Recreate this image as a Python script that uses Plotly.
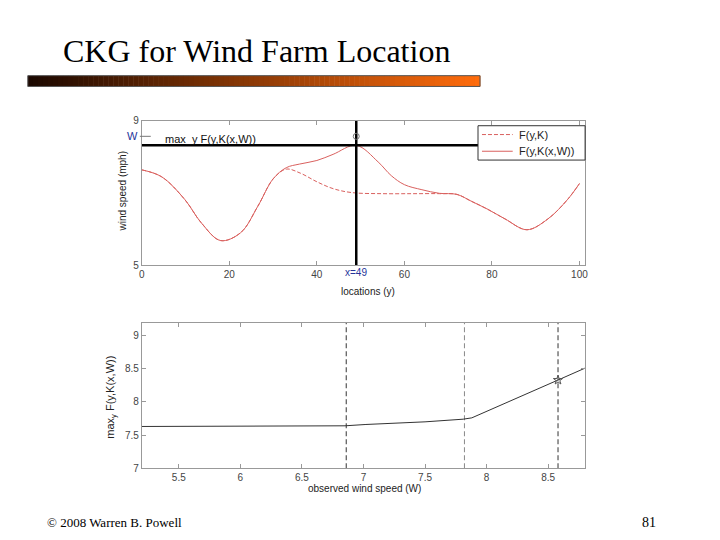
import plotly.graph_objects as go

# ---- data: top panel (locations y vs wind speed) ----
loc_fyk = [0, 4.5, 9.8, 13.6, 18, 22.6, 26.5, 30, 33, 36.2, 40, 43.7, 48, 55, 62, 68, 72, 75.3, 79, 83, 88, 92.8, 97.3, 100]
val_fyk = [7.64, 7.45, 6.82, 6.17, 5.68, 5.9, 6.63, 7.39, 7.66, 7.55, 7.31, 7.12, 7.01, 6.98, 6.98, 6.98, 6.96, 6.77, 6.55, 6.28, 5.98, 6.28, 6.82, 7.26]

loc_fykw = [0, 4.5, 9.8, 13.6, 18, 22.6, 26.5, 30, 33, 36, 40, 43.7, 49, 54, 57, 60, 64, 68, 72, 75.3, 79, 83, 88, 92.8, 97.3, 100]
val_fykw = [7.64, 7.45, 6.82, 6.17, 5.68, 5.9, 6.63, 7.39, 7.7, 7.8, 7.9, 8.07, 8.32, 7.86, 7.48, 7.23, 7.09, 6.99, 6.96, 6.77, 6.55, 6.28, 5.98, 6.28, 6.82, 7.26]

x_best = 49
max_value = 8.32
w_observed = 8.57
top_xticks = [0, 20, 40, 60, 80, 100]
top_yticks = [5, 9]
legend_labels = ["F(y,K)", "F(y,K(x,W))"]

# ---- data: bottom panel (observed wind speed vs max value) ----
w_vals = [5.2, 6.85, 7.02, 7.5, 7.81, 7.88, 8.58, 8.8]
max_vals = [7.63, 7.64, 7.66, 7.7, 7.74, 7.76, 8.33, 8.51]
w_marker = [8.58]
max_marker = [8.33]
vlines_w = [6.86, 7.82, 8.58]
vline_colors = ["#333333", "#888888", "#333333"]
bot_xticks = [5.5, 6, 6.5, 7, 7.5, 8, 8.5]
bot_yticks = [7, 7.5, 8, 8.5, 9]

RED = "#d9605e"
BLUE = "#26349a"
SANS = "Liberation Sans, Arial"
SERIF = "Liberation Serif, Times New Roman"
TICKFONT = dict(family=SANS, size=10, color="#444444")
DASH = "4px,2px"

fig = go.Figure()

fig.add_trace(go.Scatter(x=loc_fyk, y=val_fyk, mode="lines", name=legend_labels[0],
                         line=dict(color=RED, width=1, dash=DASH, shape="spline"),
                         xaxis="x", yaxis="y"))
fig.add_trace(go.Scatter(x=loc_fykw, y=val_fykw, mode="lines", name=legend_labels[1],
                         line=dict(color=RED, width=1, shape="spline"),
                         xaxis="x", yaxis="y"))
# black crosshair
fig.add_trace(go.Scatter(x=[0, 101.3], y=[max_value, max_value], mode="lines",
                         line=dict(color="black", width=2.5), xaxis="x", yaxis="y"))
fig.add_trace(go.Scatter(x=[x_best, x_best], y=[5, 9], mode="lines",
                         line=dict(color="black", width=2.5), xaxis="x", yaxis="y"))
fig.add_trace(go.Scatter(x=[x_best], y=[w_observed], mode="markers",
                         marker=dict(symbol="circle-open", size=6, color="#777777"),
                         xaxis="x", yaxis="y"))

# bottom panel
for wv, c in zip(vlines_w, vline_colors):
    fig.add_trace(go.Scatter(x=[wv, wv], y=[7, 9.19], mode="lines",
                             line=dict(color=c, width=1, dash="5px,3px"),
                             xaxis="x2", yaxis="y2"))
fig.add_trace(go.Scatter(x=w_vals, y=max_vals, mode="lines",
                         line=dict(color="#333333", width=1), xaxis="x2", yaxis="y2"))
fig.add_trace(go.Scatter(x=w_marker, y=max_marker, mode="markers",
                         marker=dict(symbol="star-open", size=7, color="#555555"),
                         xaxis="x2", yaxis="y2"))

W, H = 720, 540
def px_x(p): return p / W
def px_y(p): return (H - p) / H

axis_common = dict(showgrid=False, zeroline=False, showline=True, linecolor="#999999",
                   linewidth=1, mirror="ticks", ticks="inside", ticklen=4,
                   tickcolor="#999999", tickfont=TICKFONT)

fig.update_layout(
    width=W, height=H, autosize=False,
    margin=dict(l=0, r=0, t=0, b=0),
    paper_bgcolor="white", plot_bgcolor="white",
    showlegend=False,
    xaxis=dict(domain=[px_x(140), px_x(587)], range=[0, 101.3], tickvals=top_xticks,
               anchor="y", **axis_common),
    yaxis=dict(domain=[px_y(265), px_y(118)], range=[5, 9], tickvals=top_yticks,
               anchor="x", **axis_common),
    xaxis2=dict(domain=[px_x(140), px_x(587)], range=[5.2, 8.8], tickvals=bot_xticks,
                anchor="y2", **axis_common),
    yaxis2=dict(domain=[px_y(472), px_y(324)], range=[7, 9.19], tickvals=bot_yticks,
                anchor="x2", **axis_common),
)

annotations = [
    dict(text="CKG for Wind Farm Location", x=px_x(58), y=px_y(47), xanchor="left", yanchor="middle",
         font=dict(family=SERIF, size=32, color="black")),
    dict(text="max_y F(y,K(x,W))", x=px_x(161), y=px_y(137), xanchor="left", yanchor="middle",
         font=dict(family=SANS, size=11, color="#111111")),
    dict(text="W", x=px_x(131), y=px_y(133), xanchor="center", yanchor="middle",
         font=dict(family=SANS, size=11, color=BLUE)),
    dict(text="x=49", x=px_x(356), y=px_y(273), xanchor="center", yanchor="middle",
         font=dict(family=SANS, size=10, color=BLUE)),
    dict(text="wind speed (mph)", x=px_x(120), y=px_y(190), xanchor="center", yanchor="middle",
         textangle=-90, font=dict(family=SANS, size=10, color="#222222")),
    dict(text="locations (y)", x=px_x(368), y=px_y(292), xanchor="center", yanchor="middle",
         font=dict(family=SANS, size=10, color="#222222")),
    dict(text="max<sub>y</sub> F(y,K(x,W))", x=px_x(108), y=px_y(400), xanchor="center", yanchor="middle",
         textangle=-90, font=dict(family=SANS, size=11, color="#222222")),
    dict(text="observed wind speed (W)", x=px_x(365), y=px_y(493), xanchor="center", yanchor="middle",
         font=dict(family=SANS, size=10, color="#222222")),
    dict(text="© 2008 Warren B. Powell", x=px_x(42), y=px_y(527), xanchor="left", yanchor="middle",
         font=dict(family=SERIF, size=13, color="black")),
    dict(text="81", x=px_x(661), y=px_y(527), xanchor="right", yanchor="middle",
         font=dict(family=SERIF, size=14, color="black")),
    # legend texts
    dict(text=legend_labels[0], x=px_x(518), y=px_y(132), xanchor="left", yanchor="middle",
         font=dict(family=SANS, size=11, color="#222222")),
    dict(text=legend_labels[1], x=px_x(518), y=px_y(149), xanchor="left", yanchor="middle",
         font=dict(family=SANS, size=11, color="#222222")),
]
for a in annotations:
    a.update(xref="paper", yref="paper", showarrow=False)
fig.update_layout(annotations=annotations)

shapes = []
# decorative gradient bar under the title
n = 90
x0p, x1p, y0p, y1p = 25, 481, 72, 83
c0 = (28, 8, 0)
c1 = (255, 108, 12)
for i in range(n):
    t = i / (n - 1)
    col = tuple(int(c0[k] + (c1[k] - c0[k]) * t) for k in range(3))
    xa = x0p + (x1p - x0p) * i / n
    xb = x0p + (x1p - x0p) * (i + 1) / n + 0.5
    shapes.append(dict(type="rect", xref="paper", yref="paper",
                       x0=px_x(xa), x1=px_x(xb), y0=px_y(y1p), y1=px_y(y0p),
                       line=dict(width=0), fillcolor="rgb(%d,%d,%d)" % col, layer="below"))
shapes.append(dict(type="rect", xref="paper", yref="paper",
                   x0=px_x(x0p), x1=px_x(x1p), y0=px_y(y1p), y1=px_y(y0p),
                   line=dict(width=1, color="#555555"), fillcolor="rgba(0,0,0,0)"))
# W tick mark on left axis
shapes.append(dict(type="line", xref="paper", yref="y", x0=px_x(138), x1=px_x(149),
                   y0=w_observed, y1=w_observed, line=dict(color="#777777", width=1)))
# custom legend box
shapes.append(dict(type="rect", xref="paper", yref="paper",
                   x0=px_x(479), x1=px_x(587), y0=px_y(158), y1=px_y(123),
                   line=dict(color="#333333", width=1), fillcolor="white", layer="above"))
shapes.append(dict(type="line", xref="paper", yref="paper",
                   x0=px_x(483), x1=px_x(514), y0=px_y(132), y1=px_y(132),
                   line=dict(color=RED, width=1, dash=DASH), layer="above"))
shapes.append(dict(type="line", xref="paper", yref="paper",
                   x0=px_x(483), x1=px_x(514), y0=px_y(149), y1=px_y(149),
                   line=dict(color=RED, width=1), layer="above"))
fig.update_layout(shapes=shapes)

fig.write_html("out.html", config={"displayModeBar": False},
               post_script="document.body.style.margin='0';document.body.style.overflow='hidden';")
